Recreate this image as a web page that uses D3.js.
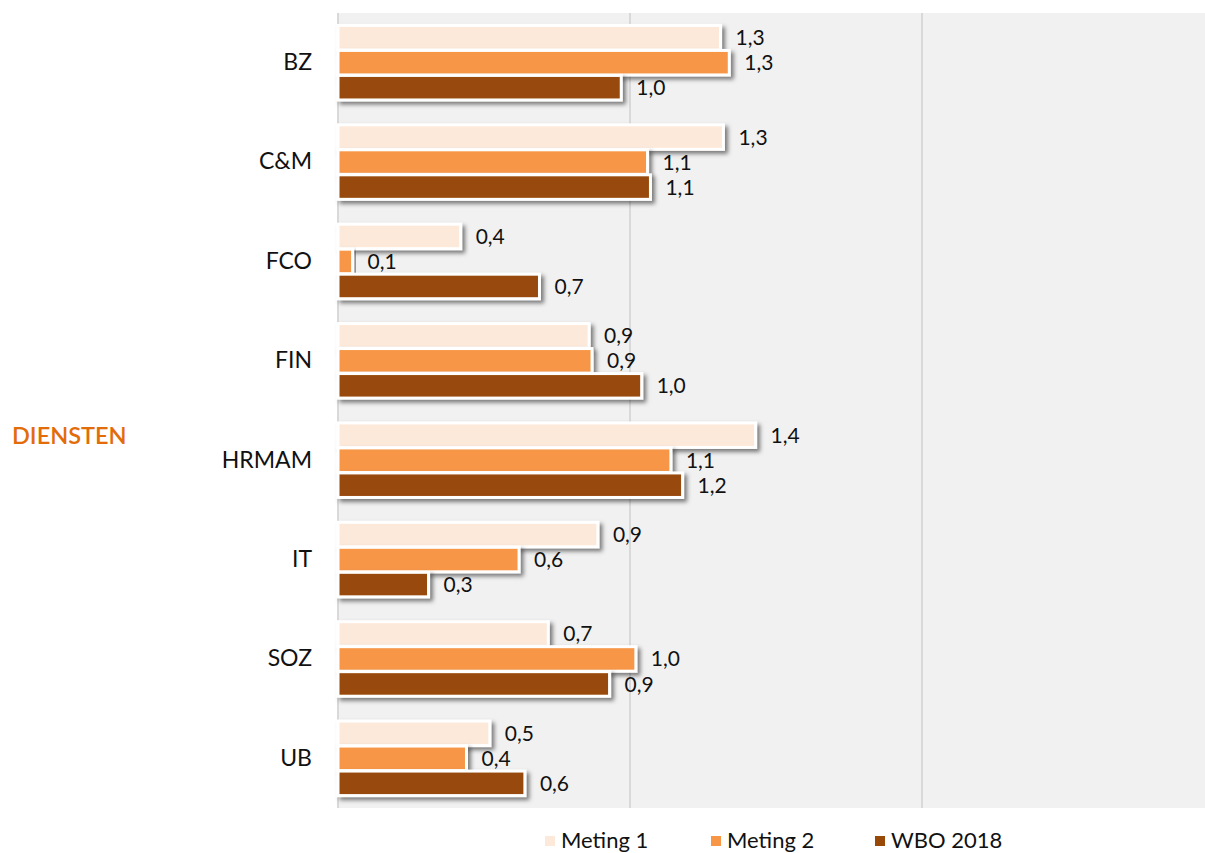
<!DOCTYPE html>
<html>
<head>
<meta charset="utf-8">
<script src="https://cdn.jsdelivr.net/npm/d3@7"></script>
<style>
  body { margin: 0; background: #fff; }
  svg { display: block; font-family: Lato, 'Open Sans', sans-serif; }
</style>
</head>
<body>
<svg id="chart" width="1205" height="853"></svg>
<script>
const diensten = ['BZ', 'C&M', 'FCO', 'FIN', 'HRMAM', 'IT', 'SOZ', 'UB']
const seriesNames = ['Meting 1', 'Meting 2', 'WBO 2018']
const meting1 = [1.31, 1.32, 0.42, 0.86, 1.43, 0.89, 0.72, 0.52]
const meting2 = [1.34, 1.06, 0.05, 0.87, 1.14, 0.62, 1.02, 0.44]
const wbo2018 = [0.97, 1.07, 0.69, 1.04, 1.18, 0.31, 0.93, 0.64]
const colors = ['#fde9d9', '#f79646', '#984807']
const xTicks = [0, 1, 2, 3]

const svg = d3.select('#chart')
const plot = { left: 338, right: 1214, top: 13, bottom: 808 }

let x = d3.scaleLinear().domain([0, 3]).range([plot.left, plot.right])
let y = d3.scaleBand().domain(diensten).range([plot.top, plot.bottom]).paddingInner(0.24).paddingOuter(0.12)
let ySub = d3.scaleBand().domain(seriesNames).range([0, y.bandwidth()]).padding(0.02)

let defs = svg.append('defs')
let shadow = defs.append('filter').attr('id', 'shadow')
  .attr('x', '-10%').attr('y', '-40%').attr('width', '130%').attr('height', '200%')
shadow.append('feDropShadow')
  .attr('dx', 3).attr('dy', 3).attr('stdDeviation', 2.2)
  .attr('flood-color', '#000').attr('flood-opacity', 0.5)

svg.append('rect')
  .attr('x', plot.left - 1).attr('y', plot.top)
  .attr('width', 1205 - plot.left + 1).attr('height', plot.bottom - plot.top)
  .attr('fill', '#f1f1f1')

// gridlines
svg.append('g')
  .selectAll('line')
  .data(xTicks)
  .enter()
  .append('line')
  .attr('x1', (d) => x(d)).attr('x2', (d) => x(d))
  .attr('y1', plot.top).attr('y2', plot.bottom)
  .attr('stroke', '#d9d9d9').attr('stroke-width', 2)

// category labels
let yAxis = d3.axisLeft(y).tickSize(0).tickPadding(26)
let yg = svg.append('g').attr('transform', `translate(${plot.left},0)`).call(yAxis)
yg.select('.domain').remove()
yg.selectAll('text').attr('font-size', 23).attr('fill', '#111').attr('font-family', 'Lato, sans-serif')

svg.append('text')
  .text('DIENSTEN')
  .attr('x', 12).attr('y', 444)
  .attr('fill', '#e36c0a')
  .attr('font-size', 23.5)
  .attr('font-weight', 600)

const fmt = (v) => d3.format('.1f')(v).replace('.', ',')

const allSeries = [meting1, meting2, wbo2018]
allSeries.forEach((values, si) => {
  let g = svg.append('g')
  let rows = diensten.map((cat, i) => ({ cat: cat, value: values[i] }))

  g.selectAll('rect')
    .data(rows)
    .enter()
    .append('rect')
    .attr('x', plot.left)
    .attr('y', (d) => y(d.cat) + ySub(seriesNames[si]))
    .attr('width', (d) => x(d.value) - plot.left)
    .attr('height', ySub.bandwidth())
    .attr('fill', colors[si])
    .attr('stroke', '#fff')
    .attr('stroke-width', 3)
    .attr('filter', 'url(#shadow)')

  g.selectAll('text')
    .data(rows)
    .enter()
    .append('text')
    .text((d) => fmt(d.value))
    .attr('x', (d) => x(d.value) + 15)
    .attr('y', (d) => y(d.cat) + ySub(seriesNames[si]) + ySub.bandwidth() / 2)
    .attr('dy', '0.36em')
    .attr('font-size', 21)
    .attr('fill', '#111')
})

// legend
let legendX = [545, 711, 875]
let legend = svg.append('g')
seriesNames.forEach((name, i) => {
  legend.append('rect')
    .attr('x', legendX[i]).attr('y', 836)
    .attr('width', 10).attr('height', 10)
    .attr('fill', colors[i])
  legend.append('text')
    .text(name)
    .attr('x', legendX[i] + 16).attr('y', 848)
    .attr('font-size', 22)
    .attr('fill', '#111')
})
</script>
</body>
</html>
